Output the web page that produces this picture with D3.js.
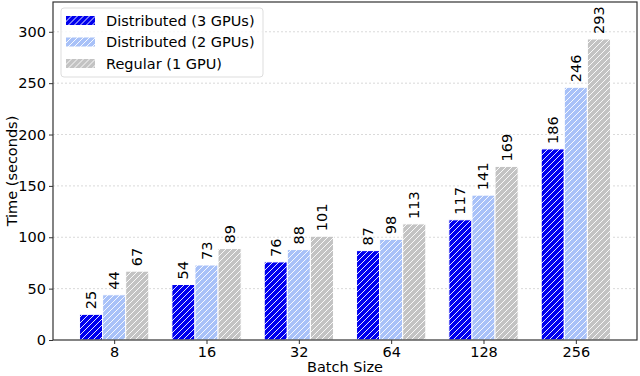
<!DOCTYPE html>
<html>
<head>
<meta charset="utf-8">
<script src="https://cdn.jsdelivr.net/npm/d3@7"></script>
<style>
  body { margin: 0; background: #fff; }
  text { font-family: "DejaVu Sans", sans-serif; fill: #000; }
</style>
</head>
<body>
<div id="chart"></div>
<script>
// batch sizes on the x axis
var batchSizes = ["8", "16", "32", "64", "128", "256"];
var seriesNames = ["Distributed (3 GPUs)", "Distributed (2 GPUs)", "Regular (1 GPU)"];
var gpu3 = [25, 54, 76, 87, 117, 186];
var gpu2 = [44, 73, 88, 98, 141, 246];
var gpu1 = [67, 89, 101, 113, 169, 293];
var yTicks = [0, 50, 100, 150, 200, 250, 300];

var colors = ["#0000ee", "#a8c1f8", "#c3c3c3"];
var series = [gpu3, gpu2, gpu1];
var fs = "14.5px";

var W = 640, H = 376;
var margin = { left: 53, right: 3, top: 2, bottom: 36 };
var width = W - margin.left - margin.right;
var height = H - margin.top - margin.bottom;

var svg = d3.select("#chart").append("svg")
    .attr("width", W)
    .attr("height", H);

// hatch patterns, white diagonal lines like matplotlib's '///'
var defs = svg.append("defs");
colors.forEach(function(c, i) {
  var p = defs.append("pattern")
      .attr("id", "hatch" + i)
      .attr("patternUnits", "userSpaceOnUse")
      .attr("width", 6).attr("height", 6);
  p.append("rect").attr("width", 6).attr("height", 6).attr("fill", c);
  p.append("path")
      .attr("d", "M-1,7 L7,-1 M-4,4 L4,-4 M2,10 L10,2")
      .attr("stroke", "#fff").attr("stroke-width", 0.9);
});

var g = svg.append("g")
    .attr("transform", "translate(" + margin.left + "," + margin.top + ")");

// numeric x scale mimicking matplotlib's margins
var x = d3.scaleLinear().domain([-0.6625, 5.6625]).range([0, width]);
var barW = 0.25;
var y = d3.scaleLinear().domain([0, 329]).range([height, 0]);

// grid lines
g.selectAll(".grid").data(yTicks.slice(1)).enter()
  .append("line")
    .attr("x1", 0).attr("x2", width)
    .attr("y1", function(d) { return y(d); })
    .attr("y2", function(d) { return y(d); })
    .attr("stroke", "#cfcfcf")
    .attr("stroke-width", 0.8)
    .attr("stroke-dasharray", "2,2");

// bars
series.forEach(function(vals, s) {
  var off = (s - 1) * barW;
  g.selectAll(".bar" + s).data(vals).enter()
    .append("rect")
      .attr("x", function(d, i) { return x(i + off - barW / 2); })
      .attr("width", x(barW) - x(0))
      .attr("y", function(d) { return y(d); })
      .attr("height", function(d) { return height - y(d); })
      .attr("fill", "url(#hatch" + s + ")")
      .attr("stroke", "#fff")
      .attr("stroke-width", 1);

  g.selectAll(".lab" + s).data(vals).enter()
    .append("text")
      .text(function(d) { return d; })
      .attr("transform", function(d, i) {
        return "translate(" + x(i + off) + "," + (y(d) - 5) + ") rotate(-90)";
      })
      .attr("dominant-baseline", "central")
      .style("font-size", fs);
});

// axes
var xAxis = d3.axisBottom(x)
    .tickValues(d3.range(batchSizes.length))
    .tickFormat(function(i) { return batchSizes[i]; })
    .tickSize(4).tickSizeOuter(0);
g.append("g")
    .attr("transform", "translate(0," + height + ")")
    .call(xAxis)
    .call(function(a) {
      a.select(".domain").remove();
      a.selectAll("text").style("font-size", fs).attr("y", 6).attr("dy", "0.75em").style("font-family", "DejaVu Sans");
      a.selectAll("line").attr("stroke", "#333");
    });

var yAxis = d3.axisLeft(y).tickValues(yTicks).tickSize(4).tickSizeOuter(0);
g.append("g")
    .call(yAxis)
    .call(function(a) {
      a.select(".domain").remove();
      a.selectAll("text").style("font-size", fs).attr("x", -7).style("font-family", "DejaVu Sans");
      a.selectAll("line").attr("stroke", "#333");
    });

// frame
g.append("rect")
    .attr("width", width).attr("height", height)
    .attr("fill", "none").attr("stroke", "#333").attr("stroke-width", 1.2);

// axis labels
svg.append("text")
    .text("Batch Size")
    .attr("x", margin.left + width / 2)
    .attr("y", H - 4)
    .attr("text-anchor", "middle")
    .style("font-size", fs);

svg.append("text")
    .text("Time (seconds)")
    .attr("transform", "translate(12," + (margin.top + height / 2) + ") rotate(-90)")
    .attr("text-anchor", "middle")
    .attr("dominant-baseline", "central")
    .style("font-size", fs);

// legend
var leg = svg.append("g").attr("transform", "translate(61,8)");
leg.append("rect")
    .attr("width", 202).attr("height", 69).attr("rx", 3)
    .attr("fill", "#fff").attr("fill-opacity", 0.8)
    .attr("stroke", "#ddd");
seriesNames.forEach(function(name, i) {
  var row = leg.append("g").attr("transform", "translate(0," + (12.5 + i * 21.5) + ")");
  row.append("rect")
      .attr("x", 5).attr("y", -4.5)
      .attr("width", 29).attr("height", 9)
      .attr("fill", "url(#hatch" + i + ")");
  row.append("text")
      .text(name)
      .attr("x", 45)
      .attr("dominant-baseline", "central")
      .style("font-size", fs);
});
</script>
</body>
</html>
